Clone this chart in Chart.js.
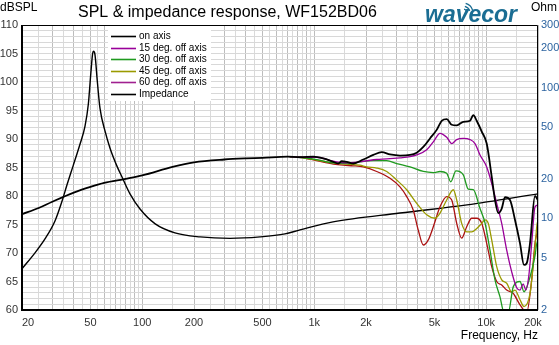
<!DOCTYPE html>
<html>
<head>
<meta charset="utf-8">
<script src="https://cdn.jsdelivr.net/npm/chart.js@4.4.0/dist/chart.umd.min.js"></script>
<style>
    html, body { margin: 0; padding: 0; background: #fff; }
</style>
</head>
<body>
<canvas id="grafico" width="559" height="345"></canvas>
<script>
// Respuesta en frecuencia (dB SPL) a distintos angulos
const onAxisHz = [20, 25, 30, 40, 50, 60, 80, 100, 150, 200, 300, 400, 500, 700, 827, 988, 1129, 1291, 1380, 1444, 1544, 1688, 1929, 2205, 2468, 2758, 3152, 3605, 3943, 4308, 4710, 5152, 5508, 5892, 6300, 6736, 7358, 8048, 8412, 8804, 9416, 10064, 10762, 11246, 11754, 12304, 12858, 13748, 14702, 15720, 16584, 17194, 17972, 19214, 20000];
const onAxisDb = [76.8, 77.9, 79.0, 80.6, 81.6, 82.3, 83.0, 83.6, 85.1, 85.9, 86.4, 86.6, 86.7, 86.9, 86.8, 86.9, 86.6, 86.0, 85.7, 86.1, 86.0, 85.7, 86.4, 87.2, 87.7, 87.3, 87.1, 87.2, 87.6, 88.6, 90.1, 91.6, 93.2, 93.5, 92.5, 92.4, 93.0, 93.2, 94.2, 93.2, 91.3, 89.2, 83.4, 79.3, 77.0, 77.8, 79.8, 79.3, 75.8, 71.7, 67.9, 68.2, 71.7, 80.0, 79.2];

const deg15Hz = [720, 827, 1034, 1291, 1544, 1929, 2308, 2638, 3152, 3605, 3943, 4508, 4924, 5386, 5892, 6300, 6736, 7358, 8048, 8604, 9202, 10064, 10762, 11506, 12304, 13154, 14064, 15040, 15720, 16400, 17000, 17700, 18450, 19214, 20000];
const deg15Db = [86.9, 86.8, 86.8, 86.1, 85.8, 86.1, 86.4, 86.5, 86.7, 86.9, 87.2, 88.1, 89.5, 91.0, 90.3, 89.2, 89.9, 90.1, 89.9, 89.2, 87.2, 85.1, 82.2, 78.7, 75.2, 70.5, 66.7, 63.9, 63.5, 64.6, 63.5, 66.1, 72.3, 78.1, 78.4];

const deg30Hz = [720, 827, 1034, 1291, 1614, 1846, 2205, 2638, 3016, 3605, 4308, 4924, 5386, 5892, 6216, 6672, 7358, 7866, 8412, 9202, 9836, 10518, 11246, 12026, 12686, 13438, 14370, 15720, 16584, 17972, 19214, 19812, 20000];
const deg30Db = [86.9, 86.8, 86.4, 85.8, 85.7, 86.0, 86.2, 86.2, 85.7, 85.1, 84.3, 84.1, 84.3, 84.0, 82.5, 84.4, 83.7, 81.2, 81.1, 77.8, 75.3, 70.5, 65.3, 62.3, 59.6, 59.6, 64.1, 65.0, 63.2, 65.8, 69.5, 72.0, 72.0];

const deg45Hz = [720, 827, 1034, 1291, 1544, 1846, 2018, 2308, 2638, 3016, 3449, 3943, 4508, 5038, 5386, 5892, 6437, 6736, 7200, 7700, 8232, 8804, 9416, 9836, 10280, 10762, 11506, 12304, 13154, 14064, 14702, 15720, 16584, 17972, 19214, 19812, 20000];
const deg45Db = [86.9, 86.8, 86.3, 85.8, 85.6, 85.4, 85.1, 84.9, 84.3, 82.8, 81.1, 78.7, 76.7, 76.1, 77.0, 79.3, 81.1, 79.3, 75.2, 73.7, 73.7, 74.3, 75.2, 75.8, 75.2, 72.3, 67.6, 65.3, 64.7, 63.2, 63.5, 61.8, 60.6, 62.9, 71.1, 75.3, 75.5];

const deg60Hz = [720, 827, 1034, 1291, 1476, 1688, 1929, 2308, 2758, 3152, 3449, 3768, 4028, 4308, 4605, 4924, 5386, 5892, 6300, 6736, 7200, 7700, 8232, 8804, 9416, 10064, 10762, 11506, 12304, 13154, 14370, 15720, 17194, 18380, 19214, 19812, 20000];
const deg60Db = [86.9, 86.8, 86.2, 85.6, 85.4, 85.3, 85.1, 84.3, 83.1, 81.6, 79.9, 77.5, 74.0, 71.4, 72.3, 74.6, 78.1, 79.9, 79.3, 75.2, 72.6, 74.6, 76.1, 76.1, 75.2, 71.7, 67.6, 65.0, 64.4, 63.5, 62.9, 60.9, 59.6, 65.3, 71.7, 73.5, 73.6];

// Impedancia (eje derecho, Ohm)
const impHz = [20, 23.8, 27.2, 31.1, 34.2, 36.5, 39.6, 43.5, 46.5, 48.6, 50.2, 51.5, 52.1, 53.1, 54.8, 56.8, 60.8, 65, 71.3, 76.3, 84.9, 97.1, 119, 155, 217, 324, 484, 676, 827, 1286, 3150, 7730, 20000];
const impOhm = [4.13, 5.46, 6.98, 9.57, 13.6, 18.0, 25.1, 37.0, 50.7, 74.5, 126, 182, 189, 179, 112, 69.5, 46.4, 34.4, 25.1, 20.7, 15.4, 11.8, 9.09, 7.76, 7.23, 7.05, 7.23, 7.62, 8.18, 9.41, 11.0, 12.7, 15.4];

// Etiquetas de los ejes
const etiquetasX = { 20: '20', 50: '50', 100: '100', 200: '200', 500: '500', 1000: '1k', 2000: '2k', 5000: '5k', 10000: '10k', 20000: '20k' };
const ticksOhm = [2, 5, 10, 20, 50, 100, 200, 300];
const nombres = ['on axis', '15 deg. off axis', '30 deg. off axis', '45 deg. off axis', '60 deg. off axis', 'Impedance'];
const colores = ['#000000', '#990099', '#1f9a1f', '#9a9a00', '#aa1111', '#000000'];
const coloresLeyenda = ['#000000', '#990099', '#1f9a1f', '#9a9a00', '#a02090', '#000000'];

const fuente = '"Liberation Sans", Arial, sans-serif';

// Lineas de la rejilla en frecuencia (pasos de medio decimal)
const frecuenciasGrid = [];
[10, 100, 1000, 10000].forEach(function (d) {
    for (let k = 2; k <= 20; k++) {
        const v = d * k / 2;
        if (v >= 20 && v <= 20000 && frecuenciasGrid.indexOf(v) < 0) frecuenciasGrid.push(v);
    }
});

function serie(hz, valores) {
    return hz.map(function (f, i) { return { x: f, y: valores[i] }; });
}

function colorRejillaX(ctx) {
    const v = ctx.tick ? ctx.tick.value : 0;
    const m = v / Math.pow(10, Math.floor(Math.log10(v) + 1e-9));
    return Number.isInteger(Math.round(m * 1000) / 1000) ? '#bdbdbd' : '#dadada';
}

// Plugin para textos, leyenda y marco
const extras = {
    id: 'extras',
    beforeDatasetsDraw(chart) {
        const c = chart.ctx;
        c.save();
        c.fillStyle = '#fff';
        c.fillRect(108, 26, 103, 75);
        c.restore();
    },
    afterDatasetsDraw(chart) {
        const c = chart.ctx;
        c.save();
        c.font = '10px ' + fuente;
        c.textBaseline = 'middle';
        nombres.forEach(function (n, i) {
            const y = Math.round(36 + i * 11.6) + 0.5;
            c.strokeStyle = coloresLeyenda[i];
            c.lineWidth = 1.6;
            c.beginPath();
            c.moveTo(111, y);
            c.lineTo(136, y);
            c.stroke();
            c.fillStyle = '#000';
            c.fillText(n, 139, y);
        });
        c.restore();
    },
    afterDraw(chart) {
        const c = chart.ctx;
        const a = chart.chartArea;
        const ejeX = chart.scales.x;
        c.save();
        // marco
        c.strokeStyle = '#000';
        c.lineWidth = 1;
        c.beginPath();
        c.moveTo(a.left, a.top + 0.5);
        c.lineTo(a.right - 0.5, a.top + 0.5);
        c.lineTo(a.right - 0.5, a.bottom);
        c.stroke();
        c.lineWidth = 2;
        c.beginPath();
        c.moveTo(a.left, a.top);
        c.lineTo(a.left, a.bottom);
        c.lineTo(a.right, a.bottom);
        c.stroke();

        // etiquetas de frecuencia (la primera y la ultima van hacia dentro)
        c.fillStyle = '#333';
        c.font = '11px ' + fuente;
        c.textAlign = 'center';
        c.textBaseline = 'middle';
        Object.keys(etiquetasX).forEach(function (k) {
            const v = Number(k);
            let px = ejeX.getPixelForValue(v);
            if (v === 20) px += 6;
            if (v === 20000) px -= 5;
            c.fillText(etiquetasX[k], px, a.bottom + 13);
        });

        // titulos
        c.fillStyle = '#000';
        c.textBaseline = 'alphabetic';
        c.font = '16px ' + fuente;
        c.textAlign = 'left';
        c.fillText('SPL & impedance response, WF152BD06', 78, 17);
        c.font = '12px ' + fuente;
        c.fillText('dBSPL', 0, 11);
        c.fillText('Ohm', 531, 11);
        c.textAlign = 'right';
        c.fillText('Frequency, Hz', 538, 339);

        // logo
        c.fillStyle = '#1b6d93';
        c.strokeStyle = '#1b6d93';
        c.textAlign = 'left';
        c.font = 'italic bold 23px ' + fuente;
        c.fillText('wavecor', 425, 22);
        c.lineWidth = 1.3;
        [4, 7, 10].forEach(function (r) {
            c.beginPath();
            c.arc(463, 13, r, -1.3, -0.3);
            c.stroke();
        });
        c.restore();
    }
};

const ctx = document.getElementById('grafico').getContext('2d');
const datasets = [
    { data: serie(onAxisHz, onAxisDb), borderWidth: 1.8 },
    { data: serie(deg15Hz, deg15Db), borderWidth: 1.3 },
    { data: serie(deg30Hz, deg30Db), borderWidth: 1.3 },
    { data: serie(deg45Hz, deg45Db), borderWidth: 1.3 },
    { data: serie(deg60Hz, deg60Db), borderWidth: 1.3 },
    { data: serie(impHz, impOhm), borderWidth: 1.4, yAxisID: 'yR' }
].map(function (d, i) {
    return Object.assign({
        label: nombres[i],
        borderColor: colores[i],
        backgroundColor: colores[i],
        pointRadius: 0,
        fill: false,
        cubicInterpolationMode: 'monotone',
        yAxisID: 'y'
    }, d);
});

const grafico = new Chart(ctx, {
    type: 'line',
    data: { datasets: datasets },
    options: {
        responsive: false,
        animation: false,
        devicePixelRatio: 1,
        layout: { padding: { top: 25, left: 0, right: 0, bottom: 0 } },
        plugins: { legend: { display: false }, tooltip: { enabled: false } },
        scales: {
            x: {
                type: 'logarithmic',
                min: 20,
                max: 20000,
                afterBuildTicks: function (s) {
                    s.ticks = frecuenciasGrid.map(function (v) { return { value: v }; });
                },
                afterFit: function (s) { s.height = 35; },
                grid: { color: colorRejillaX, drawTicks: false, lineWidth: 1 },
                border: { display: false },
                ticks: {
                    autoSkip: false,
                    maxRotation: 0,
                    callback: function () { return ''; }
                }
            },
            y: {
                type: 'linear',
                position: 'left',
                min: 60,
                max: 110,
                afterFit: function (s) { s.width = 22; },
                grid: { color: '#d8d8d8', drawTicks: false, lineWidth: 1 },
                border: { display: false },
                ticks: {
                    stepSize: 1,
                    autoSkip: false,
                    padding: 4,
                    color: '#333',
                    font: { family: fuente, size: 11 },
                    callback: function (v) { return v % 5 === 0 ? v : ''; }
                }
            },
            yR: {
                type: 'logarithmic',
                position: 'right',
                min: 2,
                max: 300,
                afterBuildTicks: function (s) {
                    s.ticks = ticksOhm.map(function (v) { return { value: v }; });
                },
                afterFit: function (s) { s.width = 21; },
                grid: { display: false, drawTicks: false },
                border: { display: false },
                ticks: {
                    autoSkip: false,
                    padding: 3,
                    color: '#2d64a0',
                    font: { family: fuente, size: 11 },
                    callback: function (v) { return String(v); }
                }
            }
        }
    },
    plugins: [extras]
});
</script>
</body>
</html>
